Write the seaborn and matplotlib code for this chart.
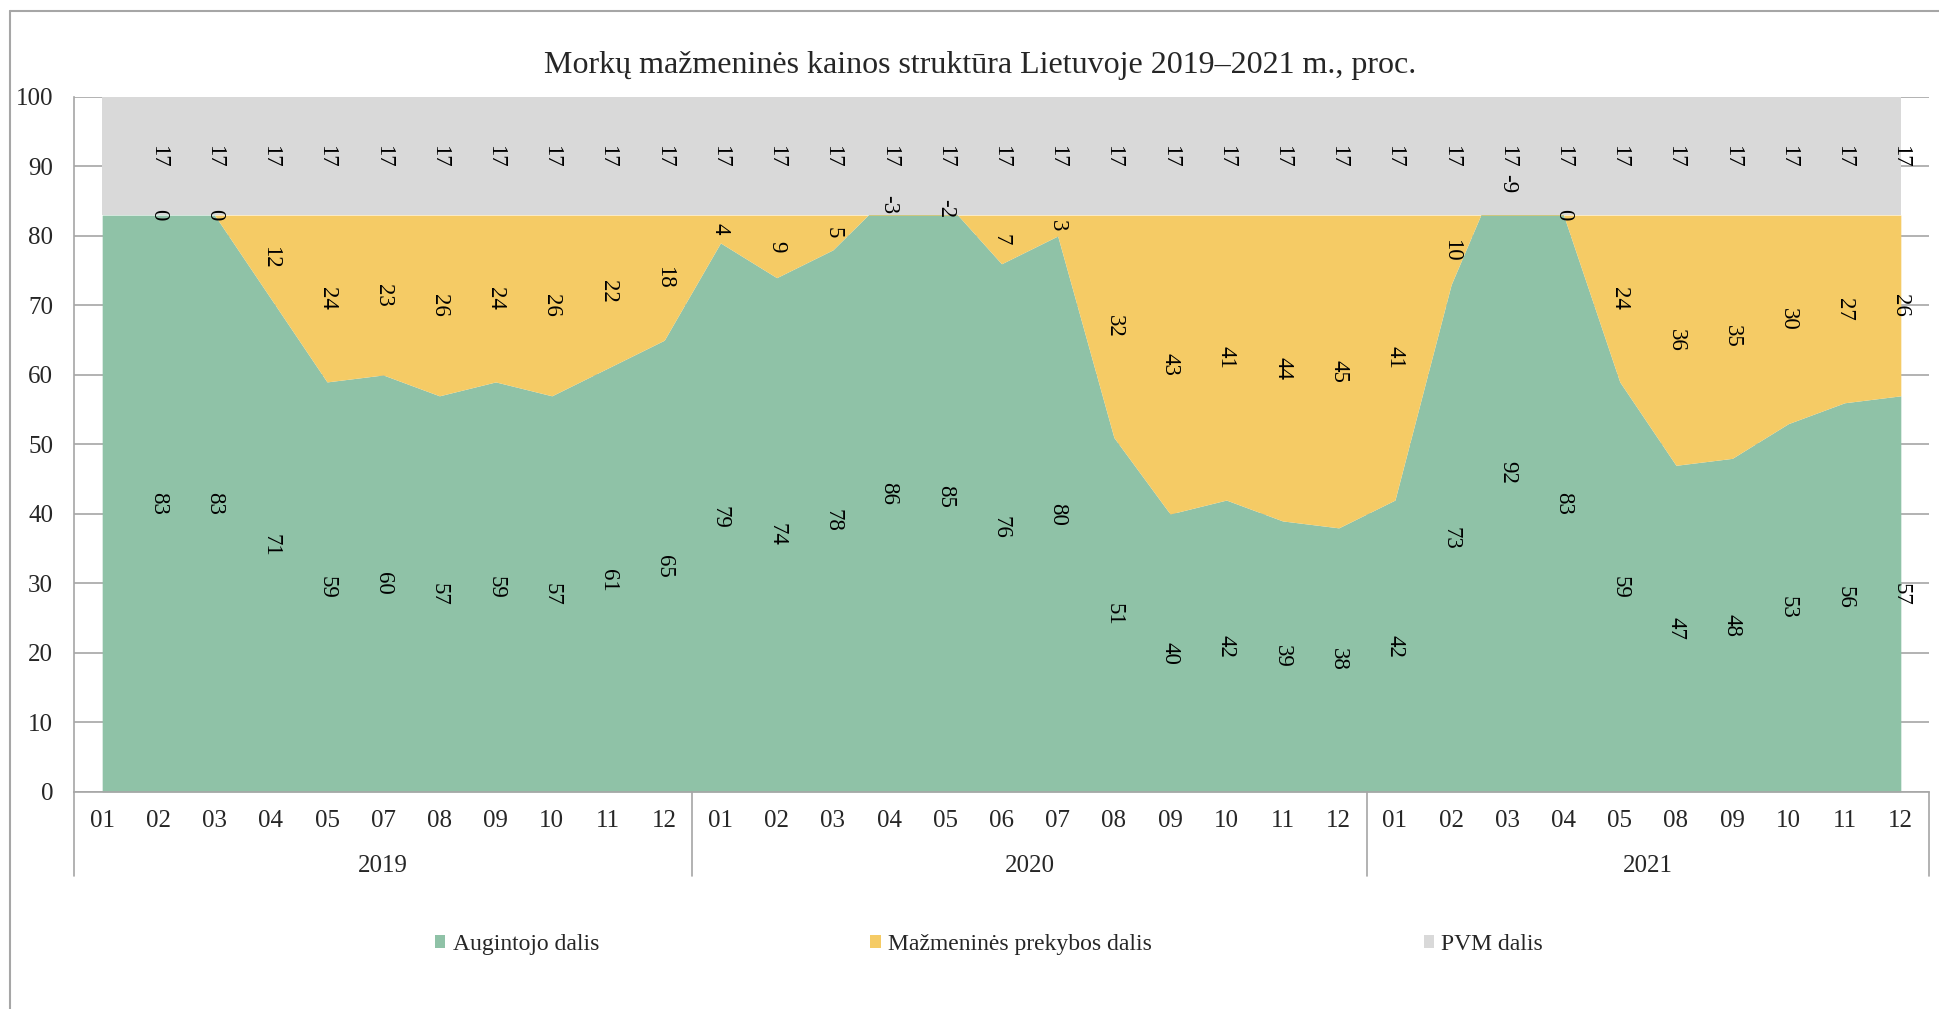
import numpy as np
import pandas as pd
import seaborn as sns
import matplotlib.pyplot as plt
from matplotlib.patches import Patch
from matplotlib.lines import Line2D

# duomenys nuskaityti nuo paveikslo
years = ['2019', '2020', '2021']
months_2019 = ['01', '02', '03', '04', '05', '07', '08', '09', '10', '11', '12']
months_2020 = ['01', '02', '03', '04', '05', '06', '07', '08', '09', '10', '11', '12']
months_2021 = ['01', '02', '03', '04', '05', '08', '09', '10', '11', '12']

augintojo = [83, 83, 83, 71, 59, 60, 57, 59, 57, 61, 65,
             79, 74, 78, 86, 85, 76, 80, 51, 40, 42, 39, 38,
             42, 73, 92, 83, 59, 47, 48, 53, 56, 57]
prekybos = [0, 0, 0, 12, 24, 23, 26, 24, 26, 22, 18,
            4, 9, 5, -3, -2, 7, 3, 32, 43, 41, 44, 45,
            41, 10, -9, 0, 24, 36, 35, 30, 27, 26]
pvm = [17] * 33

series_names = ['Augintojo dalis', 'Mažmeninės prekybos dalis', 'PVM dalis']
colors = ['#8FC2A7', '#F5CB65', '#D9D9D9']

months = months_2019 + months_2020 + months_2021
year_groups = [len(months_2019), len(months_2020), len(months_2021)]
df = pd.DataFrame({'x': np.arange(len(months)), 'men': months,
                   series_names[0]: augintojo,
                   series_names[1]: prekybos,
                   series_names[2]: pvm})

sns.set_theme(style='white')
plt.rcParams['font.family'] = ['Liberation Serif', 'DejaVu Serif']

fig = plt.figure(figsize=(19.39, 10.09), dpi=100)
ax = fig.add_axes([0.0382, 0.2151, 0.9566, 0.6888])

ax.stackplot(df['x'], df[series_names[0]], df[series_names[1]], df[series_names[2]],
             colors=colors, linewidth=0, zorder=2)

# reiksmiu etiketes (pirmas taskas be etikeciu, kaip originale)
bottom = np.zeros(len(df))
for name in series_names:
    vals = df[name].values
    for i in range(1, len(df)):
        ax.text(i, bottom[i] + vals[i] / 2, str(vals[i]), rotation=270,
                ha='center', va='center', fontsize=16.5, color='black', zorder=5)
    bottom = bottom + vals

ax.set_xlim(-0.5, len(df) - 0.5)
ax.set_ylim(0, 100)
ax.set_yticks(range(0, 101, 10))
ax.set_xticks(df['x'])
ax.set_xticklabels(months)
ax.tick_params(axis='x', length=0, pad=13, labelsize=18)
ax.tick_params(axis='y', length=0, pad=15, labelsize=18)
ax.yaxis.grid(True, color='#A6A6A6', linewidth=1.2, zorder=0)
ax.set_axisbelow(True)

for side in ['top', 'right']:
    ax.spines[side].set_visible(False)
for side in ['left', 'bottom']:
    ax.spines[side].set_color('#A6A6A6')
    ax.spines[side].set_linewidth(1.2)

# metu lygis po menesiais
trans = ax.get_xaxis_transform()
edges = np.concatenate([[0], np.cumsum(year_groups)]) - 0.5
for e in edges:
    ax.plot([e, e], [0, -0.121], transform=trans, color='#A6A6A6',
            linewidth=1.2, clip_on=False)
for k, y in enumerate(years):
    ax.text((edges[k] + edges[k + 1]) / 2, -0.106, y, transform=trans,
            ha='center', va='center', fontsize=18)

fig.text(0.5054, 0.935, 'Morkų mažmeninės kainos struktūra Lietuvoje 2019–2021 m., proc.',
         ha='center', va='center', fontsize=23)

handles = [Patch(facecolor=c, edgecolor='none') for c in colors]
fig.legend(handles, series_names, loc='center', bbox_to_anchor=(0.51, 0.064),
           ncol=3, frameon=False, fontsize=17, handlelength=0.45, handleheight=0.45,
           handletextpad=0.3, columnspacing=11.5)

# remelis aplink diagrama
fig.add_artist(Line2D([10 / 1939, 10 / 1939], [0, 1 - 11 / 1009], color='#A6A6A6', linewidth=1.5))
fig.add_artist(Line2D([10 / 1939, 1], [1 - 11 / 1009, 1 - 11 / 1009], color='#A6A6A6', linewidth=1.5))

fig.savefig('out.png', dpi=100)
